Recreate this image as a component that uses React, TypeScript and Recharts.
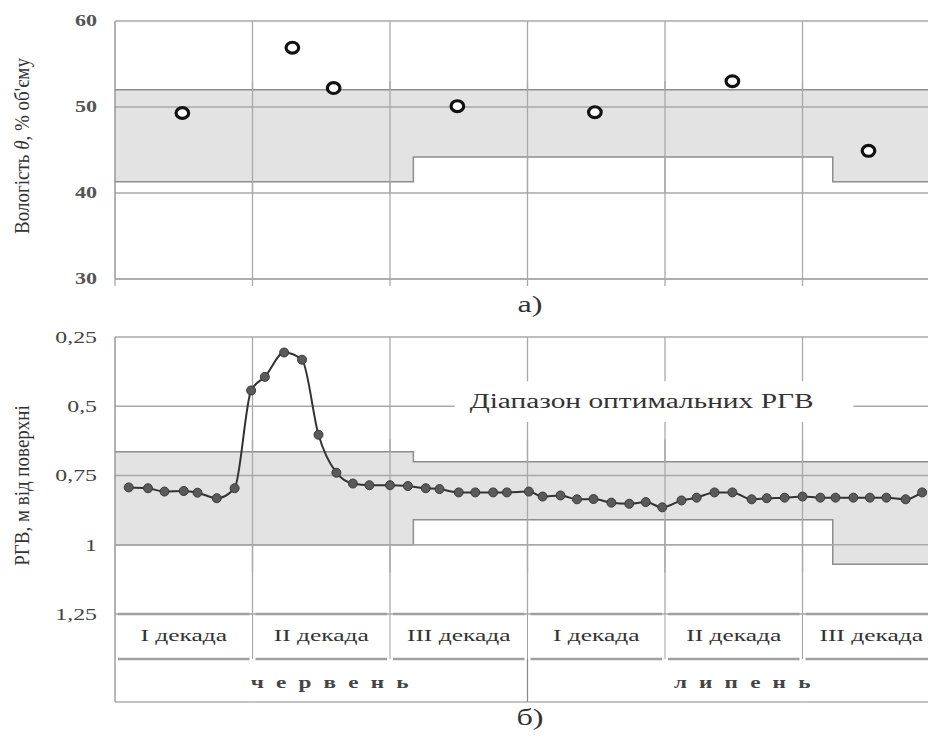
import React from "react"
import {
  Area,
  CartesianGrid,
  ComposedChart,
  Line,
  ReferenceArea,
  Scatter,
  XAxis,
  YAxis,
} from "recharts"

// x is measured in decades from 1 June (0..6)
const decadeLabels = ["I декада", "II декада", "III декада", "I декада", "II декада", "III декада"]
const monthLabels = ["ч е р в е н ь", "л и п е н ь"]
const decadeCenters = [0.5, 1.5, 2.5, 3.5, 4.5, 5.5]
const decadeBounds = [0, 1, 2, 3, 4, 5, 6]
const innerBounds = [1, 2, 3, 4, 5]

// a) soil moisture
const moistX = [0.49, 1.29, 1.59, 2.49, 3.49, 4.49, 5.48]
const moistY = [49.3, 56.9, 52.2, 50.1, 49.4, 53.0, 44.9]
const moistBandX = [0, 2.17, 5.22, 6]
const moistBandLow = [41.3, 44.2, 41.3, 41.3]
const moistBandHigh = [52, 52, 52, 52]
const moistTicks = [30, 40, 50, 60]

// b) ground water level, m below surface
const gwtX = [
  0.1, 0.24, 0.36, 0.5, 0.6, 0.74, 0.87, 0.99, 1.09, 1.23, 1.36, 1.48, 1.61, 1.73, 1.85, 2.0,
  2.13, 2.26, 2.36, 2.5, 2.62, 2.75, 2.85, 3.01, 3.11, 3.24, 3.36, 3.48, 3.61, 3.74, 3.86,
  3.98, 4.12, 4.23, 4.36, 4.49, 4.63, 4.74, 4.87, 5.0, 5.13, 5.24, 5.37, 5.49, 5.61, 5.75, 5.87,
]
const gwtY = [
  0.793, 0.796, 0.808, 0.806, 0.812, 0.832, 0.796, 0.443, 0.394, 0.306, 0.332, 0.603, 0.74, 0.779,
  0.785, 0.785, 0.788, 0.796, 0.799, 0.811, 0.811, 0.811, 0.811, 0.808, 0.826, 0.822, 0.836, 0.835,
  0.848, 0.852, 0.846, 0.865, 0.84, 0.83, 0.811, 0.811, 0.836, 0.832, 0.83, 0.826, 0.83, 0.83,
  0.83, 0.83, 0.83, 0.836, 0.811,
]
const gwtBandX = [0, 2.17, 5.22, 6]
const gwtBandTop = [0.664, 0.7, 0.7, 0.7]
const gwtBandBottom = [1.0, 0.91, 1.07, 1.07]
const gwtTicks = [0.25, 0.5, 0.75, 1, 1.25]

const moistPoints = moistX.map((x, i) => ({ x, y: moistY[i] }))
const moistBand = moistBandX.map((x, i) => ({ x, range: [moistBandLow[i], moistBandHigh[i]] }))
const gwtPoints = gwtX.map((x, i) => ({ x, y: gwtY[i] }))
const gwtBand = gwtBandX.map((x, i) => ({ x, range: [gwtBandTop[i], gwtBandBottom[i]] }))

const FONT = "'Liberation Serif', 'Times New Roman', serif"
const GRID = "#a9a9a9"
const BAND = "#e3e3e3"
const TEXT = "#333"
const CHART_W = 945
const PLOT_W = 825
const CELL = PLOT_W / 6

function WideText({ x, y, sx = 1.45, anchor = "middle", size = 17, weight = 400, fill = TEXT, spacing = 0, children }: any) {
  return (
    <text
      transform={`translate(${x},${y}) scale(${sx},1)`}
      textAnchor={anchor}
      dominantBaseline="central"
      fontFamily={FONT}
      fontSize={size}
      fontWeight={weight}
      fill={fill}
      letterSpacing={spacing}
    >
      {children}
    </text>
  )
}

const comma = (v: number) => String(v).replace(".", ",")

function NoTick() {
  return <g />
}

function MoistTick({ x, y, payload }: any) {
  return (
    <WideText x={x} y={y} anchor="end" size={16} weight={700} fill="#555" sx={1.38}>
      {payload.value}
    </WideText>
  )
}

function GwtTick({ x, y, payload }: any) {
  return (
    <WideText x={x} y={y} anchor="end" size={17} sx={1.4} fill="#444">
      {comma(payload.value)}
    </WideText>
  )
}

function DecadeTick({ x, y, index }: any) {
  const h = CELL / 2
  const line = { stroke: "#a0a0a0" }
  return (
    <g>
      <line x1={x - h + 3} x2={x + h - 3} y1={y} y2={y} {...line} strokeWidth={2.5} />
      <WideText x={x} y={y + 22} size={17} sx={1.5}>{decadeLabels[index]}</WideText>
      <line x1={x - h + 3} x2={x + h - 3} y1={y + 45} y2={y + 45} {...line} strokeWidth={2.5} />
      {index < 5 && <line x1={x + h} x2={x + h} y1={y} y2={y + 45} {...line} strokeWidth={1} />}
      {index === 0 && <line x1={x - h} x2={x - h} y1={y} y2={y + 88} stroke="#888" strokeWidth={1.2} />}
      {index % 3 === 2 && <line x1={x + h} x2={x + h} y1={y + 45} y2={y + 88} stroke="#888" strokeWidth={1.2} />}
      <line x1={x - h} x2={x + h} y1={y + 88} y2={y + 88} stroke="#888" strokeWidth={1} />
      {index % 3 === 1 && (
        <WideText x={x + 10} y={y + 68} size={16} sx={1.45} spacing={2.2} fill="#444" weight={700}>
          {monthLabels[Math.floor(index / 3)]}
        </WideText>
      )}
    </g>
  )
}

function MoistLabel({ viewBox }: any) {
  const cx = 22
  const cy = viewBox.y + viewBox.height / 2 - 4
  return (
    <text
      transform={`translate(${cx},${cy}) rotate(-90) scale(1,1.15)`}
      textAnchor="middle"
      dominantBaseline="central"
      fontFamily={FONT}
      fontSize={19}
      fill={TEXT}
    >
      <tspan>Вологість  </tspan>
      <tspan fontStyle="italic">θ</tspan>
      <tspan>, % об'єму</tspan>
    </text>
  )
}

function GwtLabel({ viewBox }: any) {
  const cx = 22
  const cy = viewBox.y + viewBox.height / 2 + 10
  return (
    <text
      transform={`translate(${cx},${cy}) rotate(-90) scale(1,1.15)`}
      textAnchor="middle"
      dominantBaseline="central"
      fontFamily={FONT}
      fontSize={19}
      fill={TEXT}
    >
      РГВ, м від поверхні
    </text>
  )
}

function RangeNote({ viewBox }: any) {
  return (
    <WideText x={viewBox.x + 15} y={viewBox.y + viewBox.height / 2} anchor="start" size={20} sx={1.47}>
      Діапазон оптимальних РГВ
    </WideText>
  )
}

function Ring({ cx, cy }: any) {
  return <ellipse cx={cx} cy={cy} rx={6.3} ry={5.4} fill="#fff" stroke="#111" strokeWidth={3.2} />
}

function Caption({ text, top }: { text: string; top: number }) {
  return (
    <div
      style={{
        position: "absolute",
        left: 530,
        top,
        transform: "translateX(-50%) scaleX(1.4)",
        fontFamily: FONT,
        fontSize: 23,
        lineHeight: "24px",
        color: TEXT,
      }}
    >
      {text}
    </div>
  )
}

// the grid is painted under the band, so redraw the grid lines that cross it
function gridOverBand(id: string, yValues: number[], yFrom: number, yTo: number) {
  const segs = [
    ...yValues.map((v) => [{ x: 0, y: v }, { x: 6, y: v }]),
    ...innerBounds.map((v) => [{ x: v, y: yFrom }, { x: v, y: yTo }]),
  ]
  return segs.map((seg, i) => (
    <Line
      key={`${id}${i}`}
      data={seg}
      dataKey="y"
      stroke={GRID}
      strokeWidth={1.3}
      dot={false}
      activeDot={false}
      legendType="none"
      isAnimationActive={false}
    />
  ))
}

export default function App() {
  return (
    <div
      style={{
        position: "absolute",
        left: 0,
        top: 0,
        width: 928,
        height: 738,
        overflow: "hidden",
        background: "#fff",
      }}
    >
      <div style={{ position: "absolute", left: 0, top: 0 }}>
        <ComposedChart width={CHART_W} height={290} margin={{ top: 21, right: 5, bottom: 0, left: 0 }}>
          <CartesianGrid stroke={GRID} strokeWidth={1.3} verticalValues={innerBounds} />
          <XAxis
            dataKey="x"
            type="number"
            domain={[0, 6]}
            ticks={decadeBounds}
            tick={<NoTick />}
            tickSize={7}
            tickLine={{ stroke: GRID, strokeWidth: 1.3 }}
            axisLine={{ stroke: GRID, strokeWidth: 1.5 }}
            height={11}
            allowDataOverflow
          />
          <YAxis
            type="number"
            domain={[30, 60]}
            ticks={moistTicks}
            width={115}
            tickSize={0}
            tickMargin={18}
            tick={<MoistTick />}
            axisLine={{ stroke: "#999", strokeWidth: 1.5 }}
            tickLine={false}
            label={(p: any) => <MoistLabel {...p} />}
          />
          <Area
            data={moistBand}
            dataKey="range"
            type="stepAfter"
            fill={BAND}
            fillOpacity={1}
            stroke="#8e8e8e"
            strokeWidth={1.5}
            isAnimationActive={false}
          />
          {gridOverBand("m", [50], 40, 53)}
          <Scatter data={moistPoints} dataKey="y" shape={<Ring />} isAnimationActive={false} />
        </ComposedChart>
      </div>

      <Caption text="а)" top={293} />

      <div style={{ position: "absolute", left: 0, top: 300 }}>
        <ComposedChart width={CHART_W} height={438} margin={{ top: 37, right: 5, bottom: 29, left: 0 }}>
          <CartesianGrid stroke={GRID} strokeWidth={1.3} verticalValues={innerBounds} />
          <XAxis
            dataKey="x"
            type="number"
            domain={[0, 6]}
            ticks={decadeCenters}
            interval={0}
            tick={<DecadeTick />}
            tickSize={0}
            tickMargin={0}
            tickLine={false}
            axisLine={false}
            height={95}
            allowDataOverflow
          />
          <YAxis
            type="number"
            reversed
            domain={[0.25, 1.25]}
            ticks={gwtTicks}
            width={115}
            tickSize={0}
            tickMargin={18}
            tick={<GwtTick />}
            axisLine={{ stroke: "#999", strokeWidth: 1.5 }}
            tickLine={false}
            label={(p: any) => <GwtLabel {...p} />}
          />
          <Area
            data={gwtBand}
            dataKey="range"
            type="stepAfter"
            fill={BAND}
            fillOpacity={1}
            stroke="#8e8e8e"
            strokeWidth={1.5}
            isAnimationActive={false}
          />
          {gridOverBand("g", [0.75, 1], 0.62, 1.1)}
          <ReferenceArea
            x1={2.47}
            x2={5.37}
            y1={0.41}
            y2={0.557}
            fill="#fff"
            fillOpacity={1}
            stroke="none"
            ifOverflow="visible"
            label={(p: any) => <RangeNote {...p} />}
          />
          <Line
            data={gwtPoints}
            dataKey="y"
            type="monotone"
            stroke="#333"
            strokeWidth={2}
            dot={{ r: 4.5, fill: "#5a5a5a", stroke: "#3a3a3a", strokeWidth: 1 }}
            isAnimationActive={false}
          />
        </ComposedChart>
      </div>

      <Caption text="б)" top={706} />
    </div>
  )
}
